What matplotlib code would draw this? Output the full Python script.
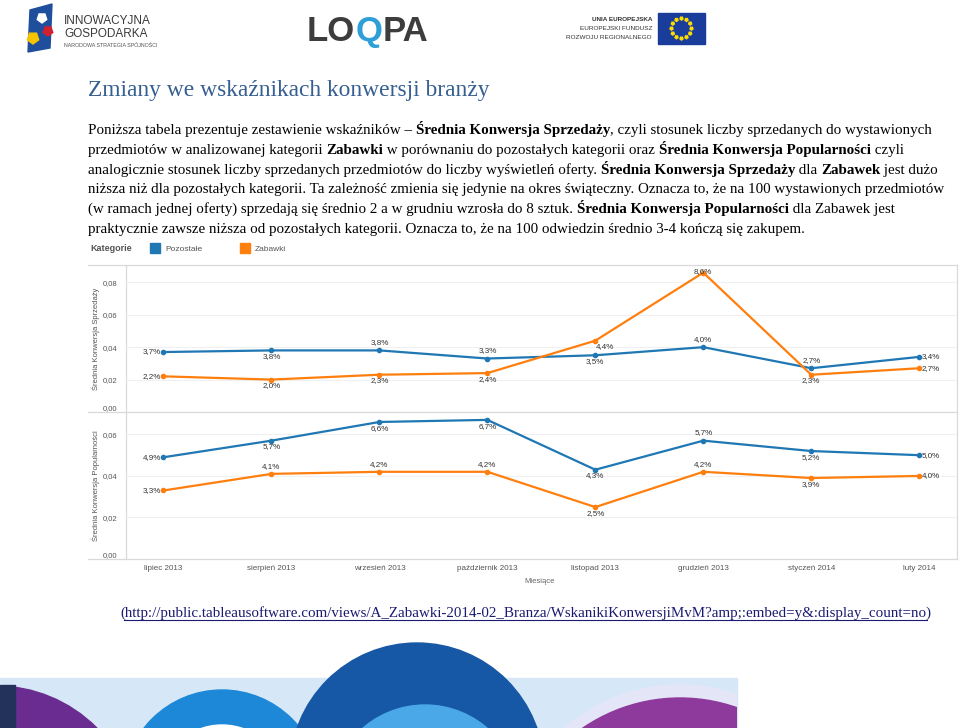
import matplotlib
matplotlib.use("Agg")
import matplotlib.pyplot as plt
import numpy as np
from matplotlib.patches import Rectangle, Circle, Polygon, RegularPolygon

# ---- data ----
months = ["lipiec 2013", "sierpień 2013", "wrzesień 2013", "październik 2013",
          "listopad 2013", "grudzień 2013", "styczeń 2014", "luty 2014"]
sales_other = [3.7, 3.8, 3.8, 3.3, 3.5, 4.0, 2.7, 3.4]   # Średnia Konwersja Sprzedaży, %
sales_toys = [2.2, 2.0, 2.3, 2.4, 4.4, 8.6, 2.3, 2.7]
pop_other = [4.9, 5.7, 6.6, 6.7, 4.3, 5.7, 5.2, 5.0]     # Średnia Konwersja Popularności, %
pop_toys = [3.3, 4.1, 4.2, 4.2, 2.5, 4.2, 3.9, 4.0]
series_names = ["Pozostałe", "Zabawki"]
sales_ticks = [0.0, 0.02, 0.04, 0.06, 0.08]
pop_ticks = [0.0, 0.02, 0.04, 0.06]

# label placement (style): l=left r=right a=above b=below br=below-right c=centre
sales_other_pos = ['l', 'b', 'a', 'a', 'b', 'a', 'a', 'r']
sales_toys_pos = ['l', 'b', 'b', 'b', 'br', 'c', 'b', 'r']
pop_other_pos = ['l', 'b', 'b', 'b', 'b', 'a', 'b', 'r']
pop_toys_pos = ['l', 'a', 'a', 'a', 'b', 'a', 'b', 'r']

BLUE = '#1f77b4'
ORANGE = '#ff7f0e'
GRID = '#d9d9d9'
SANS = 'Liberation Sans'
SERIF = 'Liberation Serif'

title = "Zmiany we wskaźnikach konwersji branży"
paragraph = [
    [("Poniższa tabela prezentuje zestawienie wskaźników – ", False), ("Średnia Konwersja Sprzedaży", True),
     (", czyli stosunek liczby sprzedanych do wystawionych", False)],
    [("przedmiotów w analizowanej kategorii ", False), ("Zabawki", True),
     (" w porównaniu do pozostałych kategorii oraz ", False), ("Średnia Konwersja Popularności", True), (" czyli", False)],
    [("analogicznie stosunek liczby sprzedanych przedmiotów do liczby wyświetleń oferty. ", False),
     ("Średnia Konwersja Sprzedaży", True), (" dla ", False), ("Zabawek", True), (" jest dużo", False)],
    [("niższa niż dla pozostałych kategorii. Ta zależność zmienia się jedynie na okres świąteczny. "
      "Oznacza to, że na 100 wystawionych przedmiotów", False)],
    [("(w ramach jednej oferty) sprzedają się średnio 2 a w grudniu wzrosła do 8 sztuk. ", False),
     ("Średnia Konwersja Popularności", True), (" dla Zabawek jest", False)],
    [("praktycznie zawsze niższa od pozostałych kategorii. Oznacza to, że na 100 odwiedzin "
      "średnio 3-4 kończą się zakupem.", False)],
]
url = "http://public.tableausoftware.com/views/A_Zabawki-2014-02_Branza/WskanikiKonwersjiMvM?amp;:embed=y&:display_count=no"

W, H = 960, 728
fig = plt.figure(figsize=(W / 100, H / 100), dpi=100)
fig.patch.set_facecolor('white')
renderer = fig.canvas.get_renderer()

# overlay in pixel coordinates for the slide decoration and text
ov = fig.add_axes([0, 0, 1, 1], zorder=0)
ov.set_xlim(0, W)
ov.set_ylim(H, 0)
ov.axis('off')


def text_width(s, **kw):
    t = ov.text(0, 0, "|" + s + "|", **kw)
    w = t.get_window_extent(renderer).width
    t.remove()
    t = ov.text(0, 0, "||", **kw)
    w -= t.get_window_extent(renderer).width
    t.remove()
    return w


def rich_line(x, y, segs, size, family=SERIF, color='black'):
    for s, bold in segs:
        kw = dict(fontsize=size, family=family, fontweight='bold' if bold else 'normal', color=color)
        ov.text(x, y, s, ha='left', va='baseline', **kw)
        x += text_width(s, **kw)
    return x


# ---- header logos (approximation) ----
ov.add_patch(Polygon([[30, 10], [52, 4], [50, 48], [28, 52]], closed=True, color='#1f4e9c', zorder=1))
ov.add_patch(RegularPolygon((42, 18), 5, radius=5, color='white', zorder=2))
ov.add_patch(RegularPolygon((48, 31), 5, radius=5, color='#d3202f', zorder=2))
ov.add_patch(RegularPolygon((33, 38), 5, radius=6, color='#f6c400', zorder=2))
ov.text(64, 24, "INNOWACYJNA", fontsize=8.5, family=SANS, color='#3a3a3a', va='baseline')
ov.text(64, 37, "GOSPODARKA", fontsize=8.5, family=SANS, color='#3a3a3a', va='baseline')
ov.text(64, 47, "NARODOWA STRATEGIA SPÓJNOŚCI", fontsize=3.8, family=SANS, color='#555555', va='baseline')
rich_line(307, 41, [("LO", True)], 25, family=SANS, color='#3d3d3d')
x_l = 307 + text_width("LO", fontsize=25, family=SANS, fontweight='bold')
x_l = rich_line(x_l, 41, [("Q", True)], 25, family=SANS, color='#2f9fd8')
rich_line(x_l, 41, [("PA", True)], 25, family=SANS, color='#3d3d3d')
ov.text(652, 21, "UNIA EUROPEJSKA", fontsize=4.6, family=SANS, fontweight='bold', color='#333', ha='right', va='baseline')
ov.text(652, 30, "EUROPEJSKI FUNDUSZ", fontsize=4.6, family=SANS, color='#333', ha='right', va='baseline')
ov.text(652, 39, "ROZWOJU REGIONALNEGO", fontsize=4.6, family=SANS, color='#333', ha='right', va='baseline')
ov.add_patch(Rectangle((658, 13), 47, 31, color='#1a3d9c', zorder=1))
for k in range(12):
    a = 2 * np.pi * k / 12
    ov.add_patch(RegularPolygon((681.5 + 10 * np.cos(a), 28.5 + 10 * np.sin(a)), 5, radius=1.6,
                                color='#ffdd00', zorder=2))

# ---- title + paragraph ----
t_size = 15 * 405 / text_width(title, fontsize=15, family=SERIF)
ov.text(88, 96, title, fontsize=t_size, family=SERIF, color='#365F91', va='baseline')

p_size = 10 * 855 / text_width(paragraph[3][0][0], fontsize=10, family=SERIF)
for i, segs in enumerate(paragraph):
    rich_line(88, 134 + i * 19.8, segs, p_size)

# ---- legend ----
ov.text(90, 251, "Kategorie", fontsize=6.5, family=SANS, fontweight='bold', color='#555', va='baseline')
for nm, col, xx in [(series_names[0], BLUE, 150), (series_names[1], ORANGE, 240)]:
    ov.add_patch(Rectangle((xx, 243), 10, 10, color=col))
    ov.text(xx + 15, 251, nm, fontsize=6, family=SANS, color='#555', va='baseline')

# frame lines of the chart
for yy in (265, 412, 559):
    ov.plot([88, 957], [yy, yy], color=GRID, lw=0.9)
ov.plot([125.7, 125.7], [265, 559], color=GRID, lw=0.9)
ov.plot([957, 957], [265, 559], color=GRID, lw=0.9)

x = np.arange(len(months))
offsets = {'l': ((-2, 0), 'right', 'center'), 'r': ((2, 0), 'left', 'center'),
           'a': ((0, 3), 'center', 'bottom'), 'b': ((0, -2), 'center', 'top'),
           'br': ((0, -2), 'left', 'top'), 'c': ((0, 1), 'center', 'center')}


def fmt(v):
    return f"{v:.1f}%".replace('.', ',')


def panel(rect, ymax, ticks, series, ylabel):
    ax = fig.add_axes(rect, zorder=2)
    ax.set_facecolor('none')
    for s in ax.spines.values():
        s.set_visible(False)
    ax.set_xlim(-0.35, 7.35)
    ax.set_ylim(0, ymax)
    ax.set_yticks(ticks)
    ax.set_yticklabels([f"{t:.2f}".replace('.', ',') for t in ticks], fontsize=5.5, family=SANS, color='#555')
    ax.get_yticklabels()[0].set_verticalalignment('bottom')
    ax.tick_params(length=0, pad=6)
    ax.yaxis.grid(True, color='#f0f0f0', lw=0.8)
    ax.set_axisbelow(True)
    ax.set_ylabel(ylabel, fontsize=5.5, family=SANS, color='#555', labelpad=2)
    for vals, col, pos in series:
        v = np.array(vals) / 100
        ax.plot(x, v, color=col, lw=1.6, marker='o', ms=3, solid_joinstyle='round')
        for xi, yi, lab, p in zip(x, v, vals, pos):
            off, ha, va = offsets[p]
            ax.annotate(fmt(lab), (xi, yi), xytext=off, textcoords='offset points',
                        ha=ha, va=va, fontsize=5.8, family=SANS, color='#333')
    return ax


left = 125.7 / W
width = (957 - 125.7) / W
ax1 = panel([left, (H - 412) / H, width, 147 / H], 0.0907, sales_ticks,
            [(sales_other, BLUE, sales_other_pos), (sales_toys, ORANGE, sales_toys_pos)],
            "Średnia Konwersja Sprzedaży")
ax1.set_xticks(x)
ax1.set_xticklabels([])
ax2 = panel([left, (H - 559) / H, width, 147 / H], 0.0708, pop_ticks,
            [(pop_other, BLUE, pop_other_pos), (pop_toys, ORANGE, pop_toys_pos)],
            "Średnia Konwersja Popularności")
ax2.set_xticks(x)
ax2.set_xticklabels(months, fontsize=5.8, family=SANS, color='#555')
ax2.tick_params(axis='x', pad=4)
ov.text(540, 583, "Miesiące", fontsize=5.5, family=SANS, color='#666', ha='center', va='baseline')

# ---- source link ----
LINK = '#1a1a70'
u_txt = ov.text(120, 617, "(" + url + ")", fontsize=p_size, family=SERIF, color=LINK, va='baseline')
bb = u_txt.get_window_extent(renderer)
ov.plot([bb.x0 + 4, bb.x1 - 4], [619.5, 619.5], color=LINK, lw=0.8)

# ---- bottom decoration ----
band = Rectangle((0, 678), 737, 50, transform=ov.transData)
clip_all = Rectangle((0, 600), 737, 128, transform=ov.transData)
ov.add_patch(Rectangle((0, 678), 737, 50, color='#d6e8f7', zorder=0))
deco = [
    (Circle((-4, 828), 142, color='#6a2c91'), band),
    (Rectangle((0, 685), 15, 43, color='#22325a'), band),
    (Circle((222, 789), 99, color='#1e88d8'), band),
    (Circle((222, 789), 64, color='white'), band),
    (Circle((680, 860), 175, color='#e4e6f7'), band),
    (Circle((680, 870), 172, color='#8e3a9c'), band),
    (Circle((417, 770), 127, color='#1658a5'), clip_all),
    (Circle((425, 800), 95, color='#4aa8e8'), clip_all),
]
for p, clip in deco:
    ov.add_patch(p)
    p.set_clip_path(clip)

fig.savefig("out.png", dpi=100)
